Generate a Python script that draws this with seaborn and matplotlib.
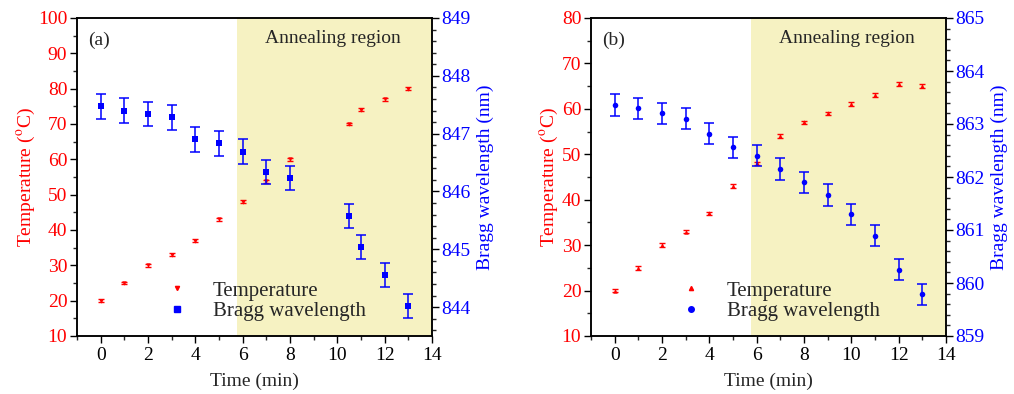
import numpy as np
import pandas as pd
import matplotlib
matplotlib.use("Agg")
import matplotlib.pyplot as plt
import seaborn as sns
from matplotlib.ticker import MultipleLocator

sns.set_style("ticks")
plt.rcParams['font.family'] = ['Liberation Serif', 'DejaVu Serif']
plt.rcParams['mathtext.fontset'] = 'stix'

# ---- data panel (a)
time_a = [0, 1, 2, 3, 4, 5, 6, 7, 8, 10.5, 11, 12, 13]
temp_a = [20, 25, 30, 33, 37, 43, 48, 53.8, 60, 70, 74, 77, 80]
temp_err_a = [0.4] * 13
bragg_a = [847.47, 847.40, 847.34, 847.28, 846.90, 846.83, 846.69, 846.34, 846.23,
           845.57, 845.04, 844.56, 844.02]
bragg_err_a = [0.21] * 13

# ---- data panel (b)
time_b = [0, 1, 2, 3, 4, 5, 6, 7, 8, 9, 10, 11, 12, 13]
temp_b = [20, 25, 30, 33, 37, 43, 48, 54, 57, 59, 61, 63, 65.5, 65]
temp_err_b = [0.4] * 14
bragg_b = [863.36, 863.30, 863.20, 863.10, 862.82, 862.56, 862.40, 862.15, 861.90,
           861.66, 861.30, 860.89, 860.25, 859.79]
bragg_err_b = [0.2] * 14

RED = '#FF0000'
BLUE = '#0000FF'
SHADE = '#F6F2C2'
FS = 14
FS_LEG = 15

fig = plt.figure(figsize=(10.14, 3.94), dpi=100)
axA = fig.add_axes([77/1014, 1-336/394, 355/1014, 318/394])
axB = fig.add_axes([591/1014, 1-336/394, 355/1014, 318/394])


def panel(ax, t, temp, terr, tmark, br, berr, bmark, ylim_l, ylim_r, tag):
    ax.axvspan(5.75, 14, color=SHADE, lw=0, zorder=0)
    ax2 = ax.twinx()
    dfT = pd.DataFrame({'Time': t, 'Temp': temp})
    dfB = pd.DataFrame({'Time': t, 'Bragg': br})
    ax.errorbar(t, temp, yerr=terr, fmt='none', ecolor=RED, elinewidth=1,
                capsize=2.5, capthick=1, zorder=3)
    sns.scatterplot(data=dfT, x='Time', y='Temp', ax=ax, marker=tmark, color=RED,
                    s=10, edgecolor=RED, linewidth=0, zorder=4, legend=False)
    ax2.errorbar(t, br, yerr=berr, fmt='none', ecolor=BLUE, elinewidth=1.1,
                 capsize=3.5, capthick=1.1, zorder=3)
    sns.scatterplot(data=dfB, x='Time', y='Bragg', ax=ax2, marker=bmark, color=BLUE,
                    s=16, edgecolor=BLUE, linewidth=0, zorder=4, legend=False)

    ax.set_xlim(-1, 14)
    ax.set_ylim(*ylim_l)
    ax2.set_ylim(*ylim_r)
    ax.xaxis.set_major_locator(MultipleLocator(2))
    ax.xaxis.set_minor_locator(MultipleLocator(1))
    ax.yaxis.set_major_locator(MultipleLocator(10))
    ax.yaxis.set_minor_locator(MultipleLocator(5))
    ax2.yaxis.set_major_locator(MultipleLocator(1))
    ax2.yaxis.set_minor_locator(MultipleLocator(0.2))
    ax2.yaxis.set_major_formatter(matplotlib.ticker.FormatStrFormatter('%d'))

    ax.set_xlabel('Time (min)', fontsize=FS, labelpad=6)
    ax.set_ylabel('Temperature ($^{\\rm o}$C)', fontsize=FS, color=RED, labelpad=1)
    ax2.set_ylabel('Bragg wavelength (nm)', fontsize=FS, color=BLUE, labelpad=4)
    ax.tick_params(axis='x', which='major', direction='out', length=5, width=1,
                   labelsize=FS, colors='black', pad=3)
    ax.tick_params(axis='x', which='minor', direction='out', length=3, width=1)
    ax.tick_params(axis='y', which='major', direction='out', length=5, width=1,
                   labelsize=FS, labelcolor=RED, color='black', pad=2)
    ax.tick_params(axis='y', which='minor', direction='out', length=3, width=1)
    ax2.tick_params(axis='y', which='major', direction='out', length=5, width=1,
                    labelsize=FS, labelcolor=BLUE, color='black', pad=2)
    ax2.tick_params(axis='y', which='minor', direction='out', length=3, width=1)
    for a in (ax, ax2):
        for s in a.spines.values():
            s.set_linewidth(1.1)
            s.set_color('black')

    ax.text(0.03, 0.93, tag, transform=ax.transAxes, fontsize=FS, va='center', ha='left')
    ax.text(0.72, 0.935, 'Annealing region', transform=ax.transAxes, fontsize=FS,
            va='center', ha='center')

    hT = plt.Line2D([], [], ls='none', marker=tmark, color=RED, markersize=3)
    hB = plt.Line2D([], [], ls='none', marker=bmark, color=BLUE, markersize=4)
    ax2.legend([hT, hB], ['Temperature', 'Bragg wavelength'], loc='lower left',
               bbox_to_anchor=(0.212, 0.0), frameon=False, fontsize=FS_LEG,
               handlelength=1.0, handletextpad=1.2, labelspacing=0.05,
               borderpad=0.2)


panel(axA, time_a, temp_a, temp_err_a, 'v', bragg_a, bragg_err_a, 's',
      (10, 100), (843.5, 849), '(a)')
panel(axB, time_b, temp_b, temp_err_b, '^', bragg_b, bragg_err_b, 'o',
      (10, 80), (859, 865), '(b)')

fig.savefig('out.png', dpi=100)
